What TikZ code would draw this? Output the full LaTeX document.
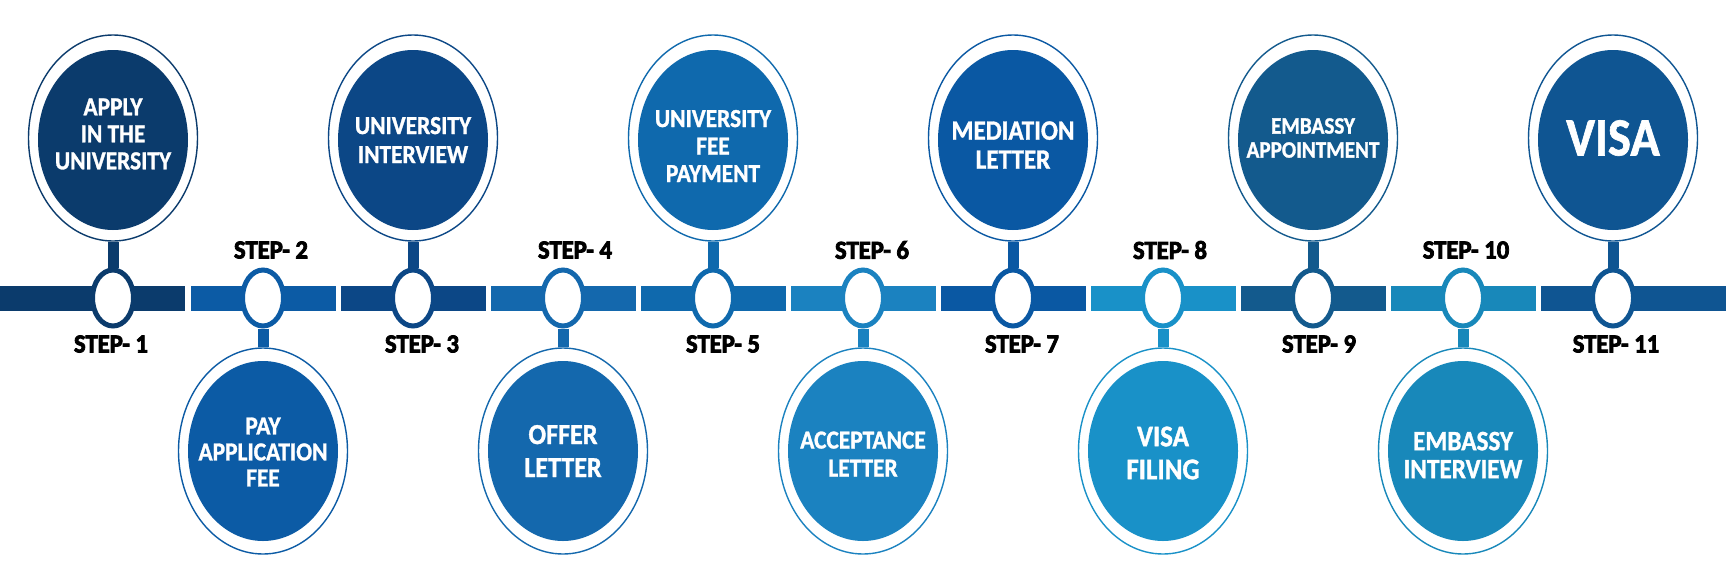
\documentclass[tikz,border=0pt]{standalone}
\usepackage{fontspec}
\usetikzlibrary{shapes.geometric}
\newfontfamily\ctext[FakeStretch=0.9,FakeBold=1.2]{Carlito Bold}
\newfontfamily\cstep[FakeStretch=0.95,FakeBold=3]{Carlito Bold}
\definecolor{k1}{HTML}{0B3B6C}
\definecolor{k2}{HTML}{0C5BA5}
\definecolor{k3}{HTML}{0C4786}
\definecolor{k4}{HTML}{1468AD}
\definecolor{k5}{HTML}{0F69AD}
\definecolor{k6}{HTML}{1B82C0}
\definecolor{k7}{HTML}{0A58A3}
\definecolor{k8}{HTML}{1991C8}
\definecolor{k9}{HTML}{135A8D}
\definecolor{k10}{HTML}{1888BA}
\definecolor{k11}{HTML}{0F5592}
\tikzset{
  outerell/.style={ellipse, draw, line width=1.4pt, fill=white, minimum width=169pt, minimum height=206pt, inner sep=0pt},
  innerell/.style={ellipse, minimum width=150pt, minimum height=180pt, inner sep=0pt},
  dotell/.style={ellipse, line width=5pt, fill=white, minimum width=41pt, minimum height=56pt, inner sep=0pt},
  segbar/.style={rectangle, inner sep=0pt, minimum height=25pt},
  stemline/.style={line width=11pt},
  lbl/.style={text=white, align=center, inner sep=0pt},
  steplbl/.style={inner sep=0pt, text=black, font=\cstep\fontsize{26}{26}\selectfont},
}
\newcommand\lblfont[2]{\ctext\fontsize{#1}{#2}\selectfont}
\begin{document}
\begin{tikzpicture}[x=1pt,y=-1pt]
\useasboundingbox[fill=white] (0,0) rectangle (1726,584);
% bar segments
\node[segbar, fill=k1, minimum width=185pt] (s1) at (92.5,298) {};
\foreach \i in {2,...,10} {
  \pgfmathsetmacro\xx{113+150*(\i-1)}
  \node[segbar, fill=k\i, minimum width=145pt] (s\i) at (\xx,298) {};
}
\node[segbar, fill=k11, minimum width=185pt] (s11) at (1633.5,298) {};
% dots, ellipses, stems
\foreach \i in {1,...,11} {
  \pgfmathsetmacro\xx{113+150*(\i-1)}
  \node[dotell, draw=k\i] (d\i) at (\xx,298) {};
  \ifodd\i
    \node[outerell, draw=k\i] (o\i) at (\xx,138) {};
    \node[innerell, fill=k\i] (e\i) at (\xx,140) {};
    \draw[stemline, k\i] (o\i.south) -- (d\i.north);
  \else
    \node[outerell, draw=k\i] (o\i) at (\xx,451) {};
    \node[innerell, fill=k\i] (e\i) at (\xx,451) {};
    \draw[stemline, k\i] (d\i.south) -- (o\i.north);
  \fi
}
% texts in ellipses
\node[lbl, font=\lblfont{26}{27}] (t1) at (113,134) {APPLY\\IN THE\\UNIVERSITY};
\node[lbl, font=\lblfont{26}{26}] (t2) at (263,452) {PAY\\APPLICATION\\FEE};
\node[lbl, font=\lblfont{26}{29}] (t3) at (413,140) {UNIVERSITY\\INTERVIEW};
\node[lbl, font=\lblfont{29}{33}] (t4) at (563,451) {OFFER\\LETTER};
\node[lbl, font=\lblfont{26}{27.5}] (t5) at (713,146) {UNIVERSITY\\FEE\\PAYMENT};
\node[lbl, font=\lblfont{26}{28}] (t6) at (863,454) {ACCEPTANCE\\LETTER};
\node[lbl, font=\lblfont{28}{29}] (t7) at (1013,145) {MEDIATION\\LETTER};
\node[lbl, font=\lblfont{30}{33}] (t8) at (1163,453) {VISA\\FILING};
\node[lbl, font=\lblfont{23.5}{24}] (t9) at (1313,138) {EMBASSY\\APPOINTMENT};
\node[lbl, font=\lblfont{28}{28}] (t10) at (1463,455) {EMBASSY\\INTERVIEW};
\node[lbl, font=\lblfont{54}{54}] (t11) at (1613,138) {VISA};
% step labels
\node[steplbl] (l1) at (111,344) {STEP- 1};
\node[steplbl] (l2) at (271,250) {STEP- 2};
\node[steplbl] (l3) at (422,344) {STEP- 3};
\node[steplbl] (l4) at (575,250) {STEP- 4};
\node[steplbl] (l5) at (723,344) {STEP- 5};
\node[steplbl] (l6) at (872,250) {STEP- 6};
\node[steplbl] (l7) at (1022,344) {STEP- 7};
\node[steplbl] (l8) at (1170,250) {STEP- 8};
\node[steplbl] (l9) at (1319,344) {STEP- 9};
\node[steplbl] (l10) at (1466,250) {STEP- 10};
\node[steplbl] (l11) at (1616,344) {STEP- 11};
\end{tikzpicture}
\end{document}
